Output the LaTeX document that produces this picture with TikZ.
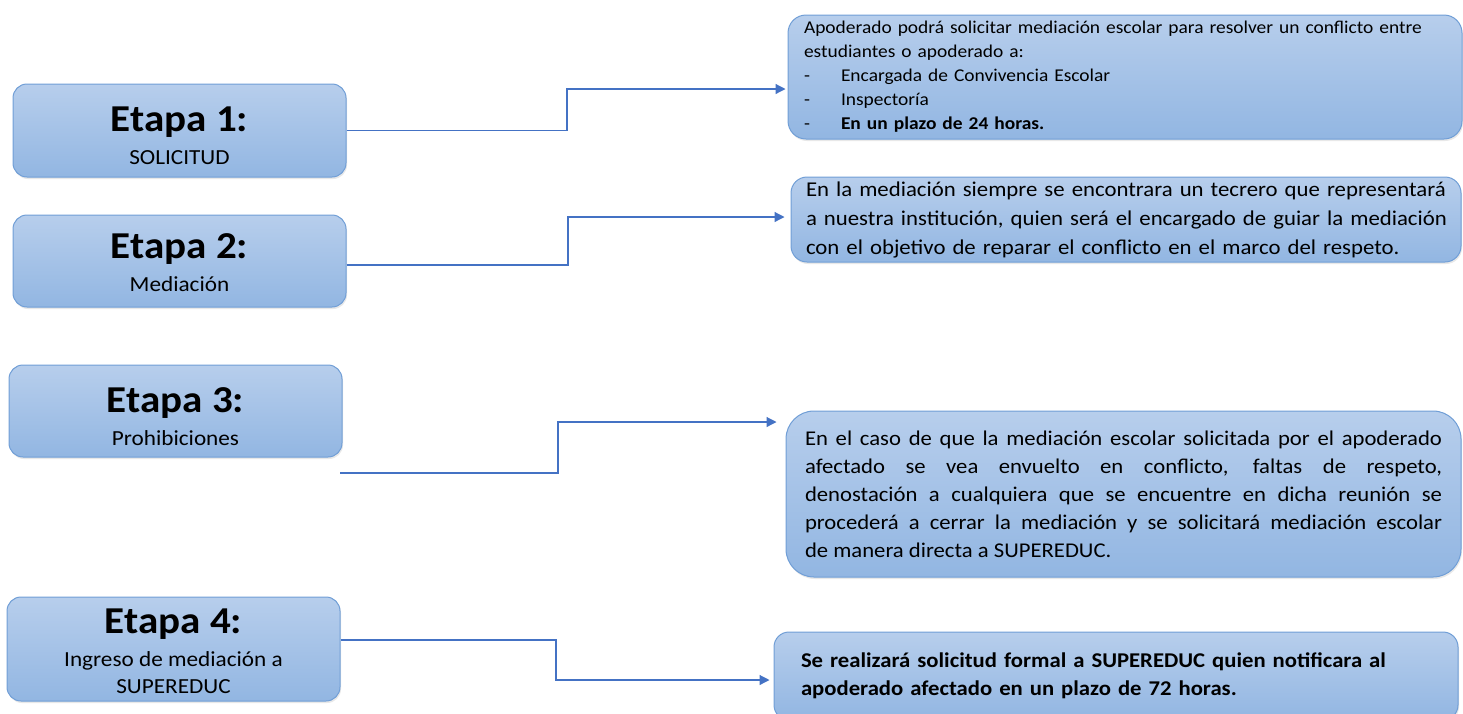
\documentclass[tikz,border=0pt]{standalone}
\usepackage{fontspec}
\setmainfont{Carlito}[FakeStretch=1.08]
\usepackage{xcolor}
\usepackage{tikz}
\usetikzlibrary{shapes,arrows,arrows.meta,shadows}
\definecolor{boxtop}{RGB}{183,206,236}
\definecolor{boxbot}{RGB}{146,182,226}
\definecolor{boxedge}{RGB}{112,158,214}
\definecolor{linkblue}{RGB}{68,114,196}
\tikzstyle{etapa} = [rectangle, draw=boxedge, line width=1pt, top color=boxtop, bottom color=boxbot, rounded corners=14pt, drop shadow={opacity=0.18,shadow xshift=1pt,shadow yshift=-2pt}, align=center, minimum width=333pt, inner sep=3pt]
\tikzstyle{detalle} = [etapa, align=left, inner ysep=2pt]
\tikzstyle{line} = [draw=linkblue, line width=1.2pt, -{Triangle[length=10pt,width=10pt]}]
\newcommand{\titulo}[2][29pt]{{\fontsize{38}{40}\selectfont\bfseries\rule{0pt}{#1}#2}\\[6pt]}
\newcommand{\guion}{\makebox[37pt][l]{-}}

\begin{document}
\begin{tikzpicture}[x=1pt,y=-1pt]
\useasboundingbox (0,0) rectangle (1463,713);
\fontsize{21.5}{27}\selectfont
% etapas
\node [etapa, minimum height=93pt] (e1) at (179.5,130.5) {\titulo[35pt]{Etapa 1:}SOLICITUD};
\node [etapa, minimum height=92pt] (e2) at (179.5,261) {\titulo{Etapa 2:}Mediación};
\node [etapa, minimum height=92pt] (e3) at (175.5,411) {\titulo[36pt]{Etapa 3:}Prohibiciones};
\node [etapa, minimum height=104pt] (e4) at (173.5,649) {\titulo{Etapa 4:}Ingreso de mediación a\\SUPEREDUC};
% detalle de cada etapa
\node [detalle, rounded corners=18pt, text width=642pt, inner xsep=16pt, minimum height=124pt, font=\fontsize{18}{24}\selectfont] (r1) at (1125,77) {Apoderado podrá solicitar mediación escolar para resolver un conflicto entre\\estudiantes o apoderado a:\\\guion Encargada de Convivencia Escolar\\\guion Inspectoría\\\guion\textbf{En un plazo de 24 horas.}};
\node [detalle, rounded corners=16pt, text width=640pt, inner xsep=15pt, minimum height=85pt, font=\fontsize{21.1}{29}\selectfont] (r2) at (1126,219.5) {\mbox{En la mediación siempre se encontrara un tecrero que representará}\\\mbox{a nuestra institución, quien será el encargado de guiar la mediación}\\\mbox{con el objetivo de reparar el conflicto en el marco del respeto.}};
\node [detalle, rounded corners=28pt, align=justify, text width=637pt, inner xsep=19pt, minimum height=166pt, font=\fontsize{21}{28}\selectfont] (r3) at (1123.5,494) {En el caso de que la mediación escolar solicitada por el apoderado\linebreak afectado se vea envuelto en conflicto, faltas de respeto,\linebreak denostación a cualquiera que se encuentre en dicha reunión se\linebreak procederá a cerrar la mediación y se solicitará mediación escolar\linebreak de manera directa a SUPEREDUC.};
\node [detalle, rounded corners=15pt, text width=630pt, inner xsep=27pt, minimum height=88pt, font=\fontsize{21}{28}\selectfont\bfseries] (r4) at (1116,676) {Se realizará solicitud formal a SUPEREDUC quien notificara al\\apoderado afectado en un plazo de 72 horas.};
% conectores
\coordinate (k1) at (567,89);
\coordinate (k2) at (568,217);
\coordinate (k3) at (558,422);
\coordinate (k4) at (556,680);
\coordinate (s3) at (340,473);
\path [line, shorten >=2pt] (e1.east) -| (k1) -- (k1 -| r1.west);
\path [line, shorten >=6pt] ([yshift=-4pt]e2.east) -| (k2) -- (k2 -| r2.west);
\path [line, shorten >=9pt] (s3) -| (k3) -- (k3 -| r3.west);
\path [line, shorten >=4pt] ([yshift=9pt]e4.east) -| (k4) -- (k4 -| r4.west);
\end{tikzpicture}
\end{document}
